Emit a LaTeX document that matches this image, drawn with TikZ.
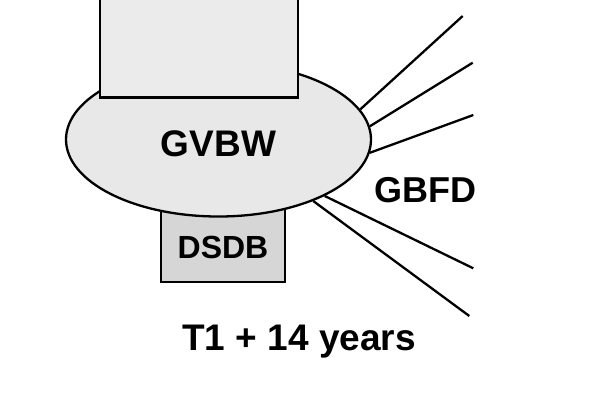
\documentclass[tikz,border=0pt]{standalone}
\usepackage{fontspec}
\setmainfont{Liberation Sans}
\usetikzlibrary{shapes.geometric}
\definecolor{BlobGray}{HTML}{E8E8E8}
\definecolor{PanelGray}{HTML}{EBEBEB}
\definecolor{TagGray}{HTML}{D6D6D6}
\newcommand{\dropby}[2]{\raisebox{-#1}[\height][0pt]{#2}}
\begin{document}
\begin{tikzpicture}[x=1pt,y=-1pt,
  blob/.style={ellipse,draw=black,line width=2.3pt,fill=BlobGray,
               minimum width=305pt,minimum height=154pt,inner sep=0pt,
               font=\fontsize{37}{42}\selectfont\bfseries},
  panel/.style={rectangle,draw=black,line width=2.3pt,fill=PanelGray,
                minimum width=198pt,minimum height=116pt,inner sep=0pt},
  tag/.style={rectangle,draw=black,line width=2pt,fill=TagGray,
              minimum width=124pt,minimum height=77pt,inner sep=0pt,
              font=\fontsize{32}{36}\selectfont\bfseries},
  lbl/.style={font=\fontsize{36}{40}\selectfont\bfseries,inner sep=0pt},
  ray/.style={line width=2.3pt,black}]
\useasboundingbox (0,0) rectangle (600,400);
\node[tag] (dsdb) at (223,243.5) {\dropby{3.5pt}{DSDB}};
\node[blob] (gvbw) at (218.5,139.5) {\dropby{4pt}{GVBW}};
\node[panel] (top) at (199,39.5) {};
\node[lbl] (gbfd) at (425,190) {GBFD};
\node[lbl,anchor=base,font=\fontsize{37}{42}\selectfont\bfseries] (span) at (299,350) {T1 + 14 years};
\coordinate (r1) at (462.7,16);
\coordinate (r2) at (472.7,62.7);
\coordinate (r3) at (473.3,115);
\coordinate (r4) at (473.3,268.3);
\coordinate (r5) at (469.3,316);
\draw[ray] (gvbw.12) -- (r1);
\draw[ray] (gvbw.5) -- (r2);
\draw[ray] (gvbw.-5) -- (r3);
\draw[ray] (gvbw.-28) -- (r4);
\draw[ray] (gvbw.-33) -- (r5);
\end{tikzpicture}
\end{document}
